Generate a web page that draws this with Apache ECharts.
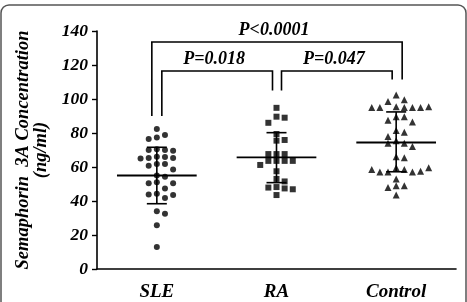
<!DOCTYPE html>
<html>
<head>
<meta charset="utf-8">
<script src="https://cdn.jsdelivr.net/npm/echarts@6/dist/echarts.min.js"></script>
<style>
html, body { margin: 0; padding: 0; background: #fff; }
#chart { width: 467px; height: 302px; }
</style>
</head>
<body>
<div id="chart"></div>
<script>
// groups and values
var groups = ['SLE', 'RA', 'Control'];
var sleValues = [82.3, 78.8, 77.4, 76.4, 70.4, 70, 70, 69.6, 66, 65.9, 65.3, 65.3, 65, 61.8, 61.8, 60.8, 58.5,
  55, 54.3, 51, 50.5, 50.5, 47.3, 44.2, 43.8, 43.6, 41.8, 34, 32.5, 25.8, 13];
var raValues = [94.8, 89.6, 89, 86, 79.4, 75.9, 75.5, 67.6, 67.6, 67.6, 63.6, 63.6, 63.6, 63.6, 61.2, 57.5,
  53, 51.5, 48.2, 47.9, 47.4, 46.9, 43.5];
var controlValues = [102.3, 99.5, 98.5, 95.5, 95, 95, 95, 95, 95, 95.5, 89.5, 89.5, 87.5, 86.5, 81.5, 80.5,
  78, 75.5, 74, 74, 72, 66, 65.5, 59.5, 58.5, 57, 57, 57, 57.5, 58.5, 59.5, 53, 49, 49, 48, 43.5];

// mean and mean +/- SD lines
var means = [55, 65.7, 74.4];
var sdHigh = [71.6, 80.2, 92.4];
var sdLow = [38.4, 50.8, 57.2];

// significance brackets
var pLabels = ['P=0.018', 'P=0.047', 'P<0.0001'];
var pFrom = [0, 1, 0];
var pTo = [1, 2, 2];
var pLevel = [116.5, 116.5, 133.5];
var pLeftEnd = [90, 105, 90];
var pRightEnd = [105, 111.5, 111.5];

var yTicks = [0, 20, 40, 60, 80, 100, 120, 140];

var font = '"Liberation Serif", "Times New Roman", serif';
var step = 0.068;   // horizontal spacing of dots (category units)
var minGap = 3.8;   // vertical overlap distance (value units)

// simple beeswarm: put each dot in the first free column
function swarm(values, gi) {
  var placed = [];
  var order = [0, 1, -1, 2, -2, 3, -3, 4, -4, 5, -5];
  return values.map(function (v) {
    for (var j = 0; j < order.length; j++) {
      var k = order[j];
      var hit = placed.some(function (p) { return p.k === k && Math.abs(p.v - v) < minGap; });
      if (!hit) {
        placed.push({ k: k, v: v });
        return [gi + k * step, v];
      }
    }
    return [gi, v];
  });
}

var chart = echarts.init(document.getElementById('chart'));

var option = {
  backgroundColor: '#fff',
  animation: false,
  grid: { left: 97, right: 11, top: 31, bottom: 33 },
  graphic: [{
    type: 'rect',
    shape: { x: 1, y: 5, width: 465, height: 320, r: 8 },
    style: { fill: 'none', stroke: '#555', lineWidth: 1.5 },
    silent: true
  }],
  xAxis: [{
    type: 'category',
    data: groups,
    axisLine: { onZero: false, lineStyle: { color: '#000', width: 1.6 } },
    axisTick: { alignWithLabel: true, length: 5, lineStyle: { color: '#000', width: 1.4 } },
    axisLabel: { color: '#000', fontFamily: font, fontStyle: 'italic', fontWeight: 'bold', fontSize: 19, margin: 14 }
  }, {
    type: 'value',
    min: -0.5,
    max: 2.5,
    show: false
  }],
  yAxis: {
    type: 'value',
    min: 0,
    max: 140,
    interval: 20,
    name: 'Semaphorin  3A Concentration\n(ng/ml)',
    nameLocation: 'middle',
    nameGap: 41,
    nameTextStyle: { color: '#000', fontFamily: font, fontStyle: 'italic', fontWeight: 'bold', fontSize: 18.5, lineHeight: 18 },
    axisLine: { show: true, onZero: false, lineStyle: { color: '#000', width: 1.6 } },
    axisTick: { show: true, length: 5, lineStyle: { color: '#000', width: 1.4 } },
    splitLine: { show: false },
    axisLabel: {
      color: '#000', fontFamily: font, fontStyle: 'italic', fontWeight: 'bold', fontSize: 17.5, margin: 9,
      formatter: function (v) { return yTicks.indexOf(v) >= 0 ? String(v) : ''; }
    }
  },
  series: [{
    type: 'scatter',
    xAxisIndex: 1,
    symbol: 'circle',
    symbolSize: 6,
    itemStyle: { color: '#000' },
    data: swarm(sleValues, 0)
  }, {
    type: 'scatter',
    xAxisIndex: 1,
    symbol: 'rect',
    symbolSize: 6,
    itemStyle: { color: '#000' },
    data: swarm(raValues, 1)
  }, {
    type: 'scatter',
    xAxisIndex: 1,
    symbol: 'triangle',
    symbolSize: 7,
    itemStyle: { color: '#000' },
    data: swarm(controlValues, 2)
  }, {
    // mean line + SD bar
    type: 'custom',
    xAxisIndex: 1,
    data: groups.map(function (g, i) { return [i, means[i], sdHigh[i], sdLow[i]]; }),
    renderItem: function (params, api) {
      var i = api.value(0);
      var m = api.coord([i, api.value(1)]);
      var hi = api.coord([i, api.value(2)]);
      var lo = api.coord([i, api.value(3)]);
      var half = api.size([0.333, 0])[0];
      var cap = 10;
      var st = { stroke: '#000', lineWidth: 1.6 };
      return {
        type: 'group',
        children: [
          { type: 'line', shape: { x1: m[0] - half, y1: m[1], x2: m[0] + half, y2: m[1] }, style: { stroke: '#000', lineWidth: 1.8 } },
          { type: 'line', shape: { x1: hi[0], y1: hi[1], x2: lo[0], y2: lo[1] }, style: st },
          { type: 'line', shape: { x1: hi[0] - cap, y1: hi[1], x2: hi[0] + cap, y2: hi[1] }, style: st },
          { type: 'line', shape: { x1: lo[0] - cap, y1: lo[1], x2: lo[0] + cap, y2: lo[1] }, style: st }
        ]
      };
    },
    z: 3
  }, {
    // significance brackets
    type: 'custom',
    xAxisIndex: 1,
    clip: false,
    data: pLabels.map(function (t, i) { return [pFrom[i], pTo[i], pLevel[i], pLeftEnd[i], pRightEnd[i]]; }),
    renderItem: function (params, api) {
      var i = params.dataIndex;
      var wide = api.value(1) - api.value(0) > 1;
      var top = api.coord([api.value(0), api.value(2)]);
      var a = api.coord([api.value(0), api.value(3)]);
      var b = api.coord([api.value(1), api.value(4)]);
      var xl = a[0] + (wide ? -5 : 5);
      var xr = b[0] + (wide ? 6 : -4);
      return {
        type: 'group',
        children: [{
          type: 'polyline',
          shape: { points: [[xl, a[1]], [xl, top[1]], [xr, top[1]], [xr, b[1]]] },
          style: { stroke: '#000', lineWidth: 1.6, fill: 'none' }
        }, {
          type: 'text',
          style: {
            text: pLabels[i], x: (xl + xr) / 2 - 3, y: top[1] - 12,
            align: 'center', verticalAlign: 'middle',
            fill: '#000', fontFamily: font, fontStyle: 'italic', fontWeight: 'bold', fontSize: 18
          }
        }]
      };
    }
  }]
};

chart.setOption(option);
</script>
</body>
</html>
